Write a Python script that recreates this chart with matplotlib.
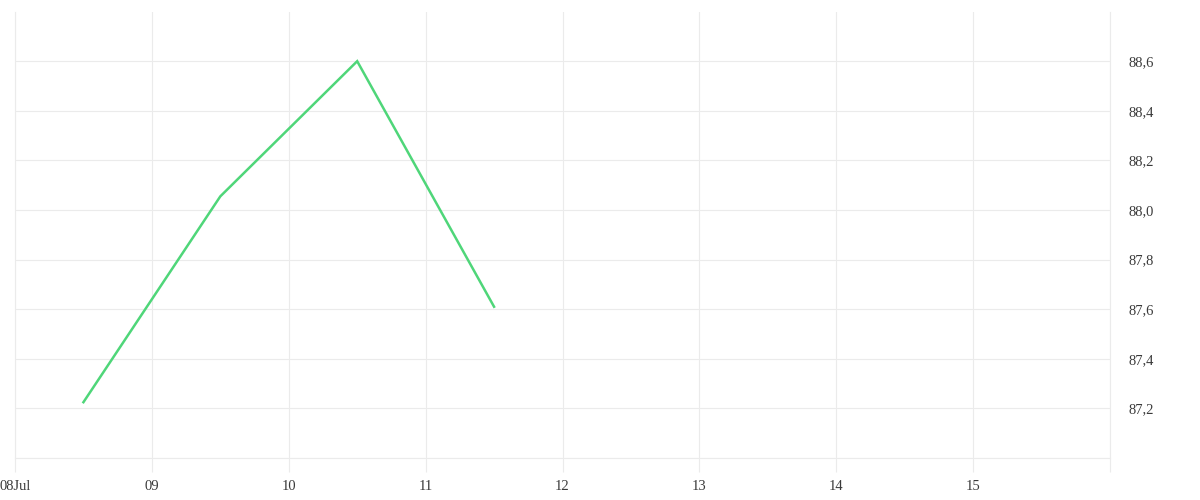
import pandas as pd
import matplotlib
matplotlib.use('Agg')
import matplotlib.pyplot as plt

# values (one point per day, at midday)
dates = pd.to_datetime(['2024-07-08 12:00', '2024-07-09 12:00',
                        '2024-07-10 12:00', '2024-07-11 12:00'])
values = [87.225, 88.055, 88.6, 87.61]

day_ticks = pd.date_range('2024-07-08', '2024-07-16', freq='D')
day_labels = ['08Jul', '09', '10', '11', '12', '13', '14', '15', '']
y_ticks = [87.0, 87.2, 87.4, 87.6, 87.8, 88.0, 88.2, 88.4, 88.6]
y_labels = ['', '87,2', '87,4', '87,6', '87,8', '88,0', '88,2', '88,4', '88,6']

grid_col = '#ebebeb'
text_col = '#3a3a3a'

plt.rcParams['font.family'] = ['Liberation Serif', 'DejaVu Serif']

fig = plt.figure(figsize=(12, 5), dpi=100)
ax = fig.add_axes([15 / 1200, 42 / 500, 1095 / 1200, 446.4 / 500])

ax.plot(dates, values, color='#4fd679', linewidth=1.8, solid_joinstyle='miter', zorder=3)

ax.set_xlim(day_ticks[0], day_ticks[-1])
ax.set_ylim(87.0, 88.8)

ax.set_xticks(day_ticks)
ax.set_xticklabels(day_labels)
ax.set_yticks(y_ticks)
ax.set_yticklabels(y_labels)

ax.yaxis.tick_right()
ax.tick_params(axis='y', length=0, pad=13, labelsize=10.5, labelcolor=text_col)
ax.tick_params(axis='x', length=10, width=0.8, color=grid_col, pad=6,
               labelsize=10.5, labelcolor=text_col)

ax.grid(True, color=grid_col, linewidth=0.8)
ax.set_axisbelow(True)
# lines at the limits get clipped, draw them again unclipped
ax.axvline(day_ticks[0], color=grid_col, linewidth=0.8, clip_on=False, zorder=0)
ax.axvline(day_ticks[-1], color=grid_col, linewidth=0.8, clip_on=False, zorder=0)
ax.axhline(y_ticks[0], color=grid_col, linewidth=0.8, clip_on=False, zorder=0)
for s in ax.spines.values():
    s.set_visible(False)

fig.savefig('out.png', dpi=100)
